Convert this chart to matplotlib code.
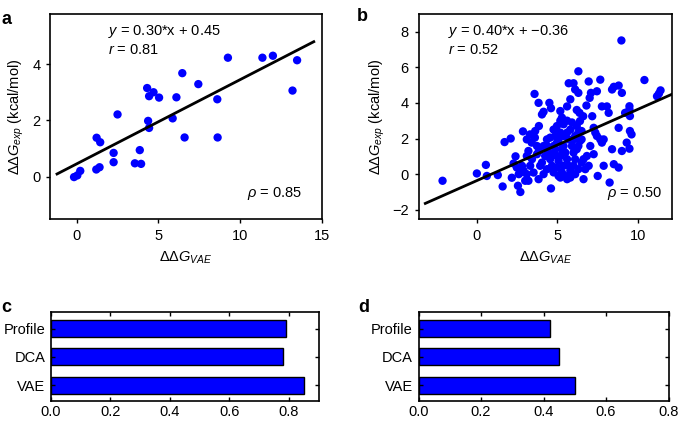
import numpy as np
import matplotlib
matplotlib.use("Agg")
from matplotlib import pyplot as plt

plt.rcParams['font.family'] = ['Liberation Sans', 'DejaVu Sans']
plt.rcParams['mathtext.fontset'] = 'custom'
plt.rcParams['mathtext.rm'] = 'Liberation Sans'
plt.rcParams['mathtext.it'] = 'Liberation Sans:italic'
plt.rcParams['font.size'] = 10.5

# panel a data
a_x = [-0.16, 0.04, 0.22, 1.22, 1.44, 1.2, 1.4, 2.26, 2.26, 2.5, 3.56, 3.86, 3.94,
       4.31, 4.37, 4.43, 4.43, 4.7, 5.04, 5.87, 6.1, 6.46, 6.6, 7.44, 8.6, 8.62,
       9.25, 11.36, 12.0, 13.2, 13.48]
a_y = [-0.02, 0.04, 0.2, 1.38, 1.22, 0.25, 0.33, 0.84, 0.51, 2.21, 0.47, 0.94, 0.45,
       3.15, 1.98, 1.73, 2.86, 3.0, 2.81, 2.07, 2.82, 3.68, 1.39, 3.29, 2.75, 1.39,
       4.23, 4.23, 4.3, 3.06, 4.14]
a_slope, a_icpt = 0.30, 0.45
a_line_x = [-1.2, 14.5]

# panel b data
b_x = [-2.13, 0.0, 0.56, 0.62, 1.3, 1.6, 1.72, 2.1, 2.28, 2.4, 2.17, 2.55, 2.7, 2.86,
       3.58, 3.83, 4.04, 4.14, 3.85, 4.5, 4.6, 3.3, 3.4, 3.1, 3.6, 3.73, 4.35, 4.55,
       4.76, 4.97, 5.18, 5.28, 5.38, 5.6, 5.7, 5.8, 6.0, 6.1, 6.3, 6.3, 6.2, 6.37,
       6.4, 6.6, 6.8, 6.94, 7.08, 7.0, 7.45, 7.66, 7.76, 7.16, 7.25, 7.35, 7.45, 7.66,
       7.76, 7.04, 7.25, 6.83, 6.62, 6.94, 6.73, 6.62, 7.87, 8.07, 8.18, 8.39, 8.5,
       8.8, 9.0, 8.97, 8.8, 8.5, 8.8, 8.24, 7.87, 7.5, 8.39, 9.0, 9.3, 9.47, 9.5,
       9.6, 9.5, 9.47, 9.2, 9.47, 10.4, 11.18, 11.4, 11.3,
       3.93, 4.04, 4.24, 4.45, 4.55, 4.76, 4.87, 4.66, 4.76, 4.97, 5.07, 5.18, 5.28,
       5.38, 5.49, 5.6, 5.7, 5.8, 5.49, 5.18, 5.8, 6.0, 6.1, 6.0, 5.9, 6.2, 6.4, 6.3,
       6.1, 5.8, 5.6, 5.38, 5.18, 5.07, 4.87, 4.97, 5.7, 6.2, 6.5, 4.6, 4.14, 4.35,
       3.52, 3.31, 3.42, 3.1, 3.2, 2.8, 2.9, 2.7, 3.1, 3.2, 3.83, 2.48, 2.6, 3.0,
       3.73, 3.85, 3.62, 4.14, 4.35, 5.07, 5.28, 5.38, 5.6, 6.1, 6.3, 6.5, 4.97,
       4.76, 5.6, 5.9, 6.5, 6.3, 6.0, 5.18]
b_y = [-0.37, 0.04, 0.52, -0.1, -0.05, -0.69, 1.8, 2.0, 0.6, 1.0, -0.2, -0.65, -1.0,
       2.4, 4.5, 4.0, 3.35, 3.5, 2.7, 4.0, 3.7, 2.23, 1.77, 1.95, 2.05, 1.58, 1.95,
       2.05, 2.5, 2.7, 3.54, 3.17, 2.8, 3.8, 5.1, 4.2, 5.1, 4.75, 5.77, 4.56, 3.6,
       3.44, 2.98, 3.25, 3.85, 5.2, 4.56, 4.28, 4.65, 5.3, 3.8, 3.25, 2.6, 2.33, 2.14,
       1.95, 1.77, 1.58, 1.12, 1.02, 0.84, 0.47, 0.28, -0.28, 1.95, 3.8, 3.44, 4.75,
       4.9, 4.97, 4.56, 7.5, 2.6, 0.56, 0.37, -0.47, 0.47, -0.1, 1.4, 1.3, 1.77,
       1.43, 2.42, 2.23, 3.26, 3.63, 3.44, 3.81, 5.28, 4.37, 4.7, 4.52,
       0.47, 0.65, 1.02, 1.21, 0.84, 1.12, 1.4, 0.47, 0.1, 0.37, 0.74, 1.02, 1.4,
       1.58, 1.21, 0.84, 0.47, 0.19, -0.1, -0.19, -0.19, 0.47, 0.84, 1.21, 1.58, 1.4,
       1.86, 2.33, 2.14, 2.5, 2.33, 2.14, 2.33, 1.95, 2.14, 1.77, 1.95, 2.7, 2.42,
       -0.8, 0.0, 0.28, 0.09, 0.47, 0.84, 1.02, 1.3, 0.47, 0.19, 0.09, 0.0, -0.37,
       -0.28, 0.37, 0.0, -0.37, 1.12, 1.3, 2.42, 1.58, 1.58, -0.1, 0.09, 0.47, -0.28,
       0.0, 0.28, 0.65, 1.02, 1.58, 3.0, 2.9, 1.95, 1.58, 1.95, 3.0]
b_slope, b_icpt = 0.40, -0.36
b_line_x = [-3.2, 12.4]

# bar data
methods = ["VAE", "DCA", "Profile"]
c_vals = [0.851, 0.78, 0.79]
d_vals = [0.50, 0.45, 0.42]

fig = plt.figure(figsize=(6.85, 4.21), dpi=100)

ax_a = fig.add_axes([0.073, 0.480, 0.397, 0.487])
ax_b = fig.add_axes([0.611, 0.480, 0.370, 0.487])
ax_c = fig.add_axes([0.074, 0.0475, 0.392, 0.211])
ax_d = fig.add_axes([0.611, 0.0475, 0.365, 0.211])


def scatter_panel(ax, x, y, slope, icpt, line_x, eq, r, rho, txt_x, rho_x):
    ax.scatter(x, y, s=36, color="#0000ff", edgecolors="none", zorder=2)
    lx = np.array(line_x)
    ax.plot(lx, slope * lx + icpt, color="black", lw=2.0, zorder=3)
    ax.text(txt_x, 0.912, eq, transform=ax.transAxes, va="center", ha="left")
    ax.text(txt_x, 0.824, r, transform=ax.transAxes, va="center", ha="left")
    ax.text(rho_x, 0.122, rho, transform=ax.transAxes, va="center", ha="right")
    ax.set_xlabel(r"$\Delta\Delta G_{VAE}$", labelpad=5)
    ax.set_ylabel(r"$\Delta\Delta G_{exp}$ (kcal/mol)", labelpad=4)
    ax.tick_params(direction="out", length=3, width=1, top=False, right=False, pad=4)
    for s in ax.spines.values():
        s.set_linewidth(1.2)


scatter_panel(ax_a, a_x, a_y, a_slope, a_icpt, a_line_x,
              r"$y$ = 0.30*x + 0.45", r"$r$ = 0.81", r"$\rho$ = 0.85", 0.213, 0.928)
ax_a.set_xlim(-1.63, 14.94)
ax_a.set_ylim(-1.51, 5.79)
ax_a.set_xticks([0, 5, 10, 15])
ax_a.set_yticks([0, 2, 4])

scatter_panel(ax_b, b_x, b_y, b_slope, b_icpt, b_line_x,
              "$y$ = 0.40*x + \u22120.36", r"$r$ = 0.52", r"$\rho$ = 0.50", 0.117, 0.962)
ax_b.set_xlim(-3.62, 12.11)
ax_b.set_ylim(-2.51, 8.99)
ax_b.set_xticks([0, 5, 10])
ax_b.set_yticks([-2, 0, 2, 4, 6, 8])


def bar_panel(ax, vals, xmax, ticks):
    ax.barh(range(len(methods)), vals, height=0.6, color="#0000ff",
            edgecolor="black", linewidth=1.0)
    ax.set_yticks(range(len(methods)))
    ax.set_yticklabels(methods)
    ax.set_xlim(0, xmax)
    ax.set_ylim(-0.56, 2.58)
    ax.set_xticks(ticks)
    ax.set_xticklabels(["%.1f" % t for t in ticks])
    ax.tick_params(direction="in", length=3, width=1, top=True, right=True, pad=4)
    ax.tick_params(axis="x", pad=3)
    for s in ax.spines.values():
        s.set_linewidth(1.2)


bar_panel(ax_c, c_vals, 0.903, [0.0, 0.2, 0.4, 0.6, 0.8])
bar_panel(ax_d, d_vals, 0.8, [0.0, 0.2, 0.4, 0.6, 0.8])

fig.text(0.002, 0.975, "a", fontsize=13, fontweight="bold", va="top")
fig.text(0.521, 0.98, "b", fontsize=13, fontweight="bold", va="top")
fig.text(0.002, 0.29, "c", fontsize=13, fontweight="bold", va="top")
fig.text(0.523, 0.29, "d", fontsize=13, fontweight="bold", va="top")

fig.savefig("out.png", dpi=100)
